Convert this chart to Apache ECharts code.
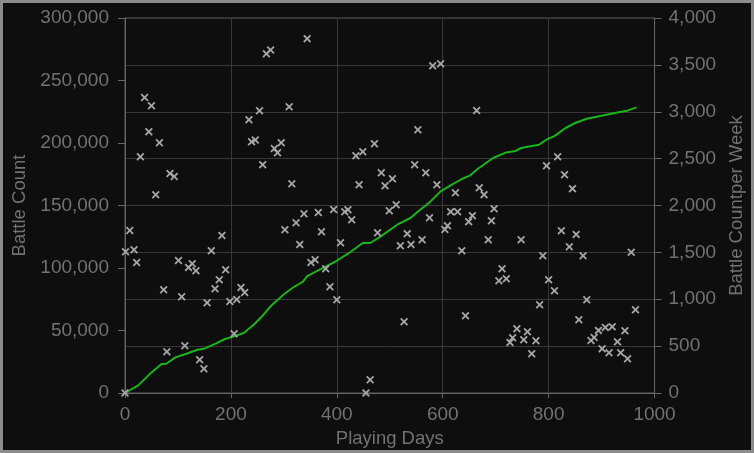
<!DOCTYPE html>
<html>
<head>
<meta charset="utf-8">
<script src="https://cdn.jsdelivr.net/npm/echarts@6/dist/echarts.min.js"></script>
<style>
html,body{margin:0;padding:0;background:#0e0e0e;}
#c{width:754px;height:453px;}
</style>
</head>
<body>
<div id="c"></div>
<script>
// Weekly battle count (right axis) — day of play
const weekDays = [0,1,9,17,22,29,37,45,50,58,65,73,79,85,93,101,107,113,120,127,134,141,149,155,163,170,178,183,190,198,206,211,219,226,234,239,246,254,260,267,275,282,288,295,302,310,315,323,330,338,344,351,359,365,371,379,387,394,400,407,415,421,428,436,442,449,455,463,471,477,484,491,499,505,512,520,527,533,540,547,553,561,568,575,581,589,596,604,609,615,624,628,636,643,649,656,664,669,678,686,692,697,706,712,720,727,732,740,748,753,760,768,776,783,789,796,800,811,817,824,830,839,845,852,857,865,872,880,886,894,901,907,914,920,930,936,944,949,956,964];
const weeklyBattles = [0,1507,1734,1529,1393,2521,3153,2787,3065,2115,2670,1102,441,2342,2310,1414,1027,505,1340,1379,1305,355,259,963,1518,1113,1209,1681,1315,977,633,998,1126,1073,2915,2680,2699,3011,2436,3619,3659,2609,2563,2670,1742,3054,2233,1817,1585,1913,3780,1393,1422,1926,1721,1326,1134,1958,995,1603,1934,1955,1849,2531,2222,2574,0,142,2659,1710,2350,2211,1945,2286,2009,1571,760,1700,1583,2435,2809,1635,2350,1870,3491,2222,3513,1745,1785,1934,2137,1934,1518,825,1828,1892,3014,2190,2116,1635,1838,1966,1198,1326,1219,540,590,686,1635,569,654,419,558,942,1465,2425,1209,1091,2521,1731,2329,1561,2180,1692,782,1465,995,561,593,668,473,700,430,707,547,430,665,366,1502,889];
// Total battle count (left axis)
const lineDays = [0,25,50,69,78,95,116,137,151,171,189,206,224,243,260,276,299,316,336,344,364,396,421,449,463,483,514,539,555,575,596,614,636,651,664,695,720,738,748,763,782,791,798,810,832,850,872,900,925,950,966];
const totalBattles = [0,6080,16480,23200,23440,28480,31440,34640,35680,39440,43200,45280,48000,54640,61840,69840,78640,84000,89040,93440,97840,104800,111440,120000,120000,125280,134640,140000,145840,152480,161280,165840,171200,173840,178640,188000,192480,193680,196000,197280,198640,201280,203200,205280,212000,216000,219440,221840,224000,226080,228480];

const xTicks = {min:0, max:1000, interval:200};
const leftTicks = {min:0, max:300000, interval:50000};
const rightTicks = {min:0, max:4000, interval:500};

const textColor = '#727272';
const font = 'Liberation Sans, Arial, sans-serif';
const fs = 19;
const nfs = 18.5;

const chart = echarts.init(document.getElementById('c'));
chart.setOption({
  backgroundColor: '#0e0e0e',
  animation: false,
  graphic: [{
    type: 'rect', z: 100, silent: true,
    shape: {x: 1.5, y: 1.5, width: 751, height: 450},
    style: {fill: 'none', stroke: '#8c8c8c', lineWidth: 3}
  }],
  grid: {left: 125, right: 94, top: 18, bottom: 60, show: true, borderColor: '#5a5a5a', borderWidth: 1},
  xAxis: {
    type: 'value', min: xTicks.min, max: xTicks.max, interval: xTicks.interval,
    name: 'Playing Days', nameLocation: 'middle', nameGap: 36,
    nameTextStyle: {color: textColor, fontSize: nfs, fontFamily: font},
    axisLine: {show: true, lineStyle: {color: '#666'}},
    axisTick: {show: true, length: 5, lineStyle: {color: '#666'}},
    axisLabel: {color: textColor, fontSize: fs, fontFamily: font, margin: 12, formatter: v => String(v)},
    splitLine: {show: true, lineStyle: {color: '#383838'}}
  },
  yAxis: [{
    type: 'value', position: 'left', min: leftTicks.min, max: leftTicks.max, interval: leftTicks.interval,
    name: 'Battle Count', nameLocation: 'middle', nameGap: 90,
    nameTextStyle: {color: textColor, fontSize: nfs, fontFamily: font},
    axisLine: {show: true, lineStyle: {color: '#666'}},
    axisTick: {show: true, length: 7, lineStyle: {color: '#666'}},
    axisLabel: {color: textColor, fontSize: fs, fontFamily: font, margin: 16,
      formatter: v => v.toLocaleString('en-US')},
    splitLine: {show: false}
  }, {
    type: 'value', position: 'right', min: rightTicks.min, max: rightTicks.max, interval: rightTicks.interval,
    name: 'Battle Countper Week', nameLocation: 'middle', nameGap: 71,
    nameTextStyle: {color: textColor, fontSize: nfs, fontFamily: font},
    axisLine: {show: true, lineStyle: {color: '#666'}},
    axisTick: {show: true, length: 7, lineStyle: {color: '#666'}},
    axisLabel: {color: textColor, fontSize: fs, fontFamily: font, margin: 14,
      formatter: v => v.toLocaleString('en-US')},
    splitLine: {show: true, lineStyle: {color: '#383838'}}
  }],
  series: [{
    type: 'line', yAxisIndex: 0, z: 2,
    data: lineDays.map((d, i) => [d, totalBattles[i]]),
    showSymbol: false, symbol: 'none',
    lineStyle: {color: '#1ab51a', width: 2},
    itemStyle: {color: '#1ab51a'}
  }, {
    type: 'scatter', yAxisIndex: 1, z: 3,
    data: weekDays.map((d, i) => [d, weeklyBattles[i]]),
    symbol: 'path://M0,1.6L1.6,0L5,3.4L8.4,0L10,1.6L6.6,5L10,8.4L8.4,10L5,6.6L1.6,10L0,8.4L3.4,5Z',
    symbolSize: 8,
    itemStyle: {color: '#a6a6a6', opacity: 1}
  }]
});
</script>
</body>
</html>
